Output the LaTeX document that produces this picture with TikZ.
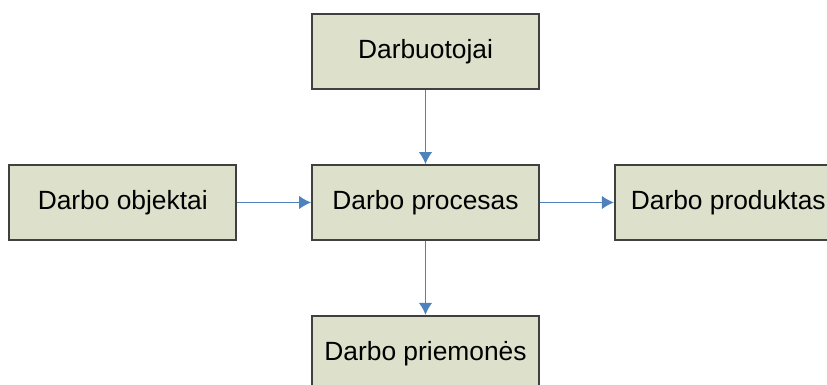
\documentclass[tikz,border=0pt]{standalone}
\usepackage{fontspec}
\setmainfont{Liberation Sans}
\usetikzlibrary{arrows.meta,positioning}

\definecolor{boxfill}{HTML}{DDE0CA}
\definecolor{arrowblue}{HTML}{4F81BD}

\begin{document}
\begin{tikzpicture}[>={Latex[length=3.4pt,width=3.8pt]},auto,node distance=0.74cm,
                    main node/.style={rectangle,draw=black!75,fill=boxfill,line width=0.5pt,
                      minimum width=2.27cm,minimum height=0.75cm,inner sep=0pt,
                      font=\fontsize{7.5}{9}\selectfont}]
  \clip (0,0) rectangle (8.27,3.85);
  \node[main node] (proc) at (4.255,1.825) {Darbo procesas};
  \node[main node] (darb) [above=of proc] {Darbuotojai};
  \node[main node] (obj) [left=of proc] {Darbo objektai};
  \node[main node] (prod) [right=of proc] {Darbo produktas};
  \node[main node] (prie) [below=of proc] {Darbo priemonės};
  \path[->,color=arrowblue,line width=0.35pt]
    (darb) edge (proc)
    (obj) edge (proc)
    (proc) edge (prod)
           edge (prie);
\end{tikzpicture}
\end{document}
